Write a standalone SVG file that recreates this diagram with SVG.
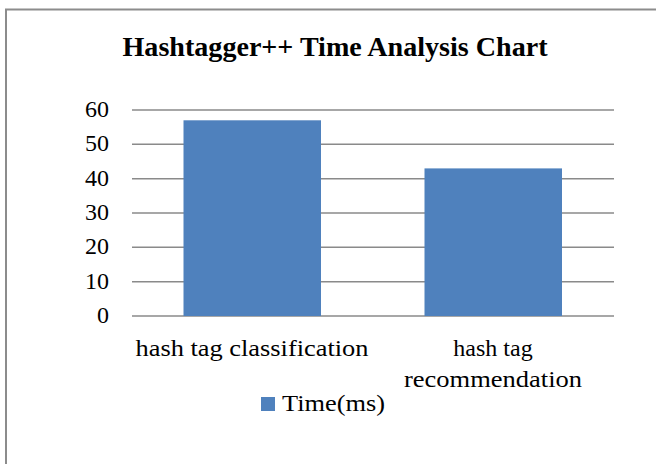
<svg xmlns="http://www.w3.org/2000/svg" width="656" height="464" viewBox="0 0 656 464">
<style>
.t{font-family:"Times New Roman","Liberation Serif",Tinos,serif;fill:#000}
.tick{font-size:24px;text-anchor:end}
.cat{font-size:24px;text-anchor:middle}
.grid{stroke:#8a8a8a;stroke-width:1.6}
.bar{fill:#4f81bd}
</style>
<rect x="0" y="0" width="656" height="464" fill="#fff"/>
<path d="M6,464 V9.5 H656" fill="none" stroke="#8c8c8c" stroke-width="2"/>
<g id="title"><text class="t" x="335" y="56" font-size="28" font-weight="bold" text-anchor="middle" textLength="425" lengthAdjust="spacingAndGlyphs">Hashtagger++ Time Analysis Chart</text></g>
<g id="grid">
<line class="grid" x1="132" y1="110" x2="614" y2="110"/>
<line class="grid" x1="132" y1="144.3" x2="614" y2="144.3"/>
<line class="grid" x1="132" y1="178.7" x2="614" y2="178.7"/>
<line class="grid" x1="132" y1="213" x2="614" y2="213"/>
<line class="grid" x1="132" y1="247.3" x2="614" y2="247.3"/>
<line class="grid" x1="132" y1="281.7" x2="614" y2="281.7"/>
<line class="grid" x1="132" y1="316" x2="614" y2="316"/>
</g>
<g id="yaxis">
<text class="t tick" x="109" y="117">60</text>
<text class="t tick" x="109" y="151.3">50</text>
<text class="t tick" x="109" y="185.7">40</text>
<text class="t tick" x="109" y="220">30</text>
<text class="t tick" x="109" y="254.3">20</text>
<text class="t tick" x="109" y="288.7">10</text>
<text class="t tick" x="109" y="323">0</text>
</g>
<g id="bar-classification"><rect class="bar" x="183.5" y="120.3" width="137.5" height="195.7"/></g>
<g id="bar-recommendation"><rect class="bar" x="424.5" y="168.4" width="137.5" height="147.6"/></g>
<g id="xaxis">
<text class="t cat" x="252" y="356" textLength="233" lengthAdjust="spacingAndGlyphs">hash tag classification</text>
<text class="t cat" x="493" y="356">hash tag</text>
<text class="t cat" x="493" y="387" textLength="178" lengthAdjust="spacingAndGlyphs">recommendation</text>
</g>
<g id="legend">
<rect class="bar" x="261" y="397" width="14" height="14"/>
<text class="t" x="282" y="411" font-size="24" textLength="103" lengthAdjust="spacingAndGlyphs">Time(ms)</text>
</g>
</svg>
